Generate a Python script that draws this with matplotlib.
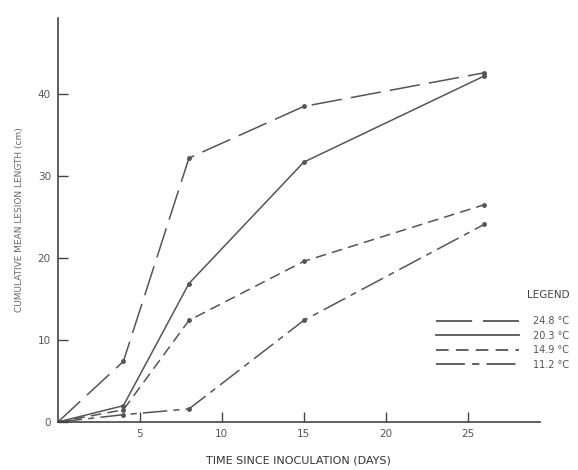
import matplotlib
matplotlib.use("Agg")
import matplotlib.pyplot as plt
from matplotlib.lines import Line2D

days = [0, 4, 8, 15, 26]
t248 = [0, 7.4, 32.2, 38.5, 42.6]
t203 = [0, 2.0, 16.9, 31.7, 42.2]
t149 = [0, 1.5, 12.4, 19.6, 26.5]
t112 = [0, 0.9, 1.6, 12.4, 24.1]
labels = ["24.8 \u00b0C", "20.3 \u00b0C", "14.9 \u00b0C", "11.2 \u00b0C"]
xticks = [5, 10, 15, 20, 25]
yticks = [0, 10, 20, 30, 40]

plt.rcParams['font.family'] = ['DejaVu Sans']
fig = plt.figure(figsize=(5.78, 4.70), dpi=100)
ax = fig.add_axes([0.100, 0.102, 0.834, 0.860])
col = '#555555'
styles = [(0, (20, 6)), '-', (0, (7, 4)), (0, (16, 4, 4, 4))]
handles = []
for ys, lab, ls in zip([t248, t203, t149, t112], labels, styles):
    ax.plot(days, ys, color=col, lw=1.1, linestyle=ls, marker='o', ms=2.5,
            markerfacecolor=col, markeredgecolor=col)
    handles.append(Line2D([], [], color=col, lw=1.3, linestyle=ls, label=lab))

ax.set_xlim(0, 29.4)
ax.set_ylim(0, 49.3)
ax.set_xticks(xticks)
ax.set_yticks(yticks)
for s in ['top', 'right']:
    ax.spines[s].set_visible(False)
for s in ['left', 'bottom']:
    ax.spines[s].set_color('#444444')
    ax.spines[s].set_linewidth(1.2)
ax.tick_params(direction='in', length=7, width=1.0, colors='#444444',
               labelsize=7.5, labelcolor='#555555', pad=5)
ax.set_xlabel("TIME SINCE INOCULATION (DAYS)", fontsize=8, color='#333333', labelpad=12)
ax.set_ylabel("CUMULATIVE MEAN LESION LENGTH (cm)", fontsize=6.5, color='#666666', labelpad=10)

leg = fig.legend(handles=handles, loc='lower right', bbox_to_anchor=(1.0, 0.195),
                 frameon=False, handlelength=8.5, fontsize=7, labelspacing=0.45,
                 handletextpad=1.5, title="LEGEND", title_fontsize=7.5)
leg._legend_box.align = "right"
leg._legend_box.sep = 12
for t in leg.get_texts():
    t.set_color('#555555')
leg.get_title().set_color('#444444')

fig.savefig("out.png", dpi=100, facecolor='white')
